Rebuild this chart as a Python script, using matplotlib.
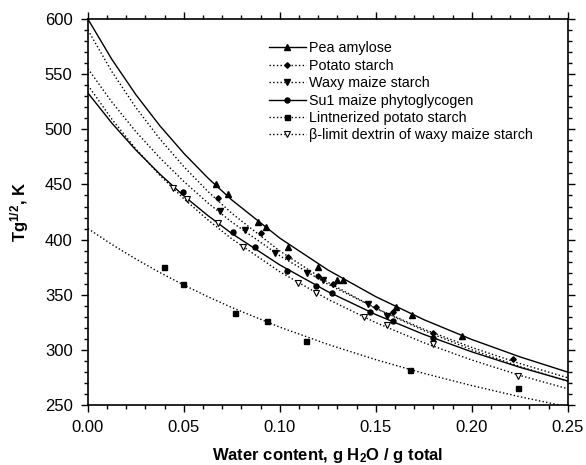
import matplotlib
matplotlib.use("Agg")
import matplotlib.pyplot as plt
from matplotlib.ticker import MultipleLocator
import numpy as np

plt.rcParams['font.family'] = ['Liberation Sans', 'DejaVu Sans']
plt.rcParams['mathtext.default'] = 'regular'

# fitted curves, read at regular water contents
w_grid = [0.0, 0.0125, 0.025, 0.0375, 0.05, 0.0625, 0.075, 0.1, 0.125, 0.15, 0.175, 0.2, 0.225, 0.25]
pea_fit = [600, 563.4, 531.4, 503.2, 478.2, 455.9, 435.9, 401.3, 372.5, 348.2, 327.4, 309.4, 293.7, 279.8]
potato_fit = [590, 552.3, 519.7, 491.2, 466.1, 443.7, 423.8, 389.6, 361.3, 337.6, 317.5, 300.1, 284.9, 271.6]
waxy_fit = [555, 524.7, 497.9, 474.1, 452.7, 433.3, 415.8, 385.3, 359.6, 337.7, 318.7, 302.2, 287.6, 274.7]
su1_fit = [533, 505.6, 481.2, 459.4, 439.6, 421.8, 405.5, 377.0, 352.8, 332.0, 314.0, 298.2, 284.2, 271.8]
lint_fit = [410, 395.6, 382.4, 370.1, 358.8, 348.2, 338.4, 320.6, 305.0, 291.1, 278.7, 267.6, 257.5, 248.4]
beta_fit = [540, 509.2, 482.2, 458.3, 437.0, 417.9, 400.6, 370.8, 345.9, 324.7, 306.5, 290.8, 276.9, 264.7]

# measured points
pea_w = [0.0665, 0.073, 0.0887, 0.093, 0.104, 0.120, 0.130, 0.133, 0.1607, 0.1686, 0.195]
pea_t = [450, 441, 416, 411, 393, 375, 363, 363, 338.5, 332, 313]
potato_w = [0.068, 0.090, 0.104, 0.120, 0.1278, 0.150, 0.1587, 0.180, 0.2215]
potato_t = [438, 405.6, 384.4, 367, 360, 339, 334.5, 315, 291.6]
waxy_w = [0.0687, 0.0818, 0.0974, 0.1139, 0.1226, 0.146, 0.1556]
waxy_t = [426, 409, 388, 370, 363, 341.5, 330.6]
su1_w = [0.0497, 0.0757, 0.087, 0.1035, 0.1188, 0.127, 0.147, 0.1587, 0.180]
su1_t = [443, 407, 393, 371.7, 358, 352, 334, 326, 311]
lint_w = [0.0397, 0.0493, 0.0766, 0.0934, 0.1135, 0.168, 0.2238]
lint_t = [375, 359.6, 333.6, 326.4, 308.2, 282, 265.6]
beta_w = [0.0445, 0.0514, 0.0679, 0.0809, 0.1095, 0.119, 0.144, 0.156, 0.180, 0.224]
beta_t = [447, 437, 414.7, 393, 361, 352, 329.5, 322.5, 305, 276]

labels = ["Pea amylose", "Potato starch", "Waxy maize starch",
          "Su1 maize phytoglycogen", "Lintnerized potato starch",
          "\u03b2-limit dextrin of waxy maize starch"]

series = [
    (pea_fit, pea_w, pea_t, '-', dict(marker='^', mfc='k', ms=4)),
    (potato_fit, potato_w, potato_t, ':', dict(marker='D', mfc='k', ms=2.8)),
    (waxy_fit, waxy_w, waxy_t, ':', dict(marker='v', mfc='k', ms=4)),
    (su1_fit, su1_w, su1_t, '-', dict(marker='o', mfc='k', ms=3.6)),
    (lint_fit, lint_w, lint_t, ':', dict(marker='s', mfc='k', ms=3.6)),
    (beta_fit, beta_w, beta_t, ':', dict(marker='v', mfc='white', ms=4, mew=0.8)),
]

fig = plt.figure(figsize=(5.86, 4.65), dpi=100)
ax = fig.add_axes([0.150, 0.129, 0.819, 0.830])

handles = []
for fit, w, t, ls, mk in series:
    ax.plot(w_grid, fit, color='k', ls=ls, lw=1.0)
    ax.plot(w, t, ls='none', mec='k', **mk)
    h, = ax.plot([], [], color='k', ls=ls, lw=1.0, mec='k', **mk)
    handles.append(h)

ax.set_xlim(0, 0.25)
ax.set_ylim(250, 600)
ax.xaxis.set_major_locator(MultipleLocator(0.05))
ax.xaxis.set_minor_locator(MultipleLocator(0.01))
ax.yaxis.set_major_locator(MultipleLocator(50))
ax.yaxis.set_minor_locator(MultipleLocator(10))
ax.set_xticklabels([f"{v:.2f}" for v in ax.get_xticks()])
ax.tick_params(which='both', direction='out', top=True, right=True, labelsize=12, width=1)
ax.tick_params(which='major', length=5, pad=6)
ax.tick_params(which='minor', length=3)
for s in ax.spines.values():
    s.set_linewidth(1.2)

ax.set_xlabel("Water content, g H$_2$O / g total", fontsize=12, fontweight='bold', labelpad=8)
ax.set_ylabel("Tg$^{1/2}$, K", fontsize=12, fontweight='bold', labelpad=10)

ax.legend(handles, labels, loc='upper left', bbox_to_anchor=(0.362, 0.961),
          frameon=False, fontsize=10.3, numpoints=1, handlelength=2.6,
          handletextpad=0.2, labelspacing=0.24, borderpad=0)

fig.savefig("out.png", dpi=100)
